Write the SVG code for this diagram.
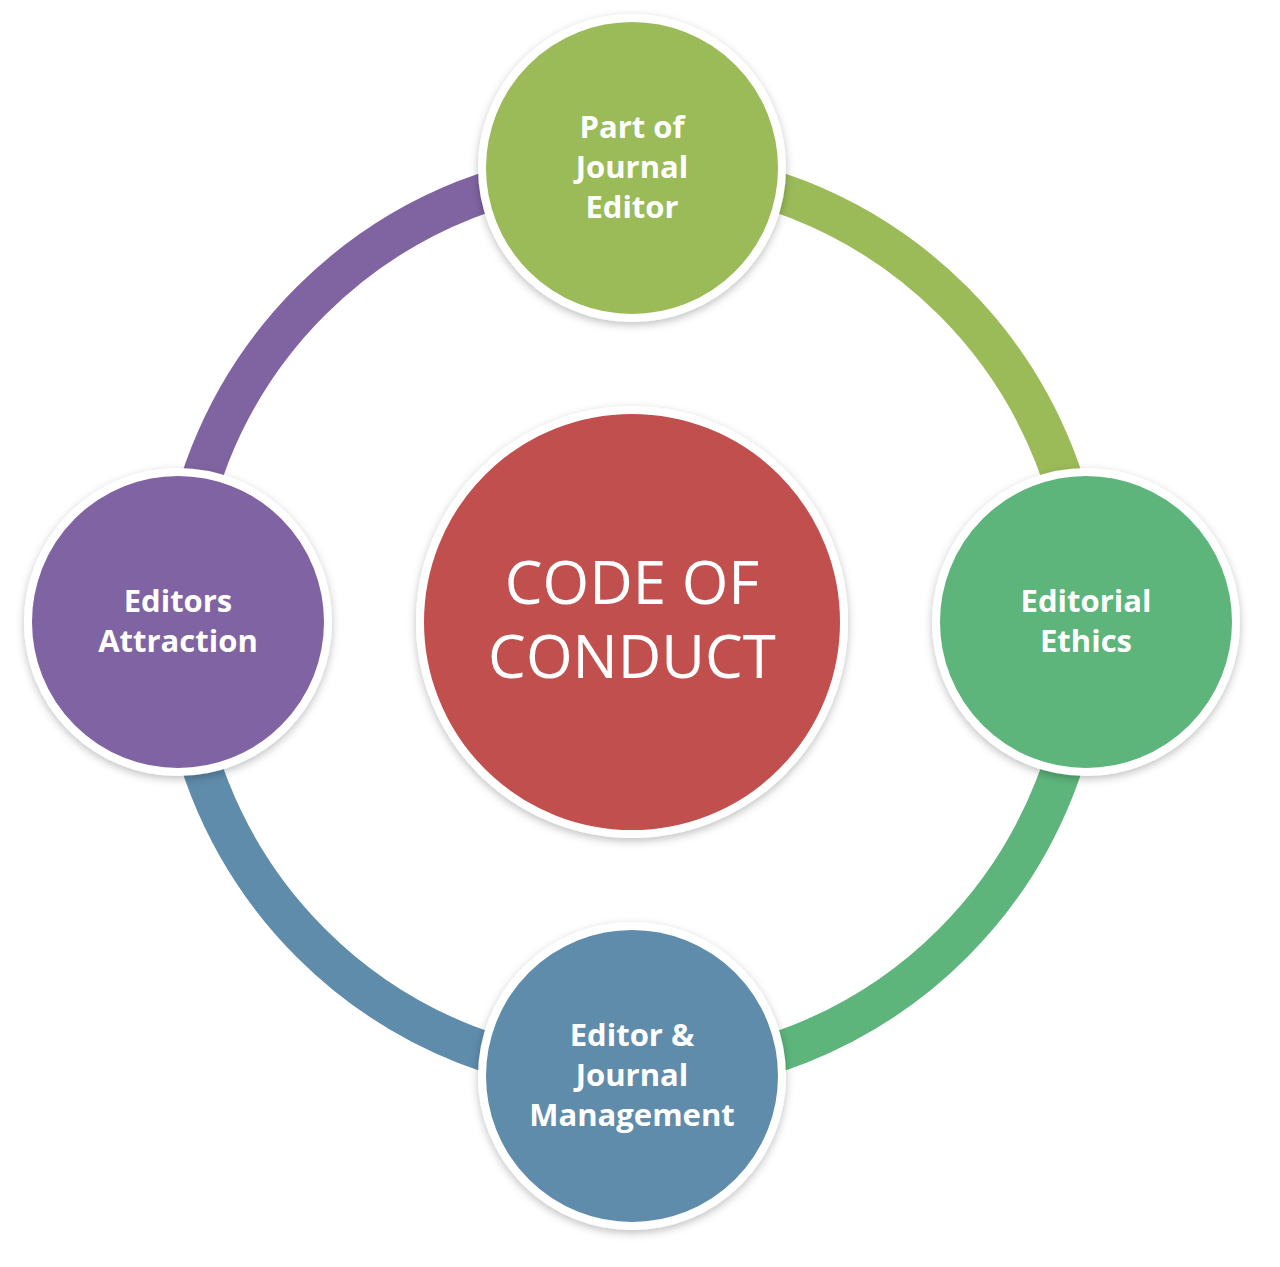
<svg xmlns="http://www.w3.org/2000/svg" width="1280" height="1267" viewBox="0 0 1280 1267">
<defs>
<filter id="sh" x="-20%" y="-20%" width="140%" height="140%"><feDropShadow dx="0" dy="3" stdDeviation="4" flood-color="#000" flood-opacity="0.25"/></filter>
</defs>
<style>
.arc{fill:none;stroke-width:40}
.node circle{stroke:#fff;stroke-width:8;filter:url(#sh)}
.lbl{font-family:"Open Sans","Liberation Sans",sans-serif;font-weight:bold;font-size:31px;fill:#fff;text-anchor:middle}
.big{font-family:"Open Sans","Liberation Sans",sans-serif;font-size:60px;fill:#fff;text-anchor:middle}
</style>
<rect width="1280" height="1267" fill="#fff"/>
<g id="connectors">
<path class="arc" stroke="#9BBB59" d="M632 168 A454 454 0 0 1 1086 622"/>
<path class="arc" stroke="#5DB57C" d="M1086 622 A454 454 0 0 1 632 1076"/>
<path class="arc" stroke="#5F8CAB" d="M632 1076 A454 454 0 0 1 178 622"/>
<path class="arc" stroke="#8064A2" d="M178 622 A454 454 0 0 1 632 168"/>
</g>
<g id="center" class="node"><circle cx="632" cy="622" r="212" fill="#C0504D"/>
<text class="big" x="632" y="604">CODE OF</text><text class="big" x="632" y="678">CONDUCT</text></g>
<g id="top" class="node"><circle cx="632" cy="168" r="150" fill="#9BBB59"/>
<text class="lbl" x="632" y="138">Part of</text><text class="lbl" x="632" y="178">Journal</text><text class="lbl" x="632" y="218">Editor</text></g>
<g id="right" class="node"><circle cx="1086" cy="622" r="150" fill="#5DB57C"/>
<text class="lbl" x="1086" y="612">Editorial</text><text class="lbl" x="1086" y="652">Ethics</text></g>
<g id="bottom" class="node"><circle cx="632" cy="1076" r="150" fill="#5F8CAB"/>
<text class="lbl" x="632" y="1046">Editor &amp;</text><text class="lbl" x="632" y="1086">Journal</text><text class="lbl" x="632" y="1126">Management</text></g>
<g id="left" class="node"><circle cx="178" cy="622" r="150" fill="#8064A2"/>
<text class="lbl" x="178" y="612">Editors</text><text class="lbl" x="178" y="652">Attraction</text></g>
</svg>
